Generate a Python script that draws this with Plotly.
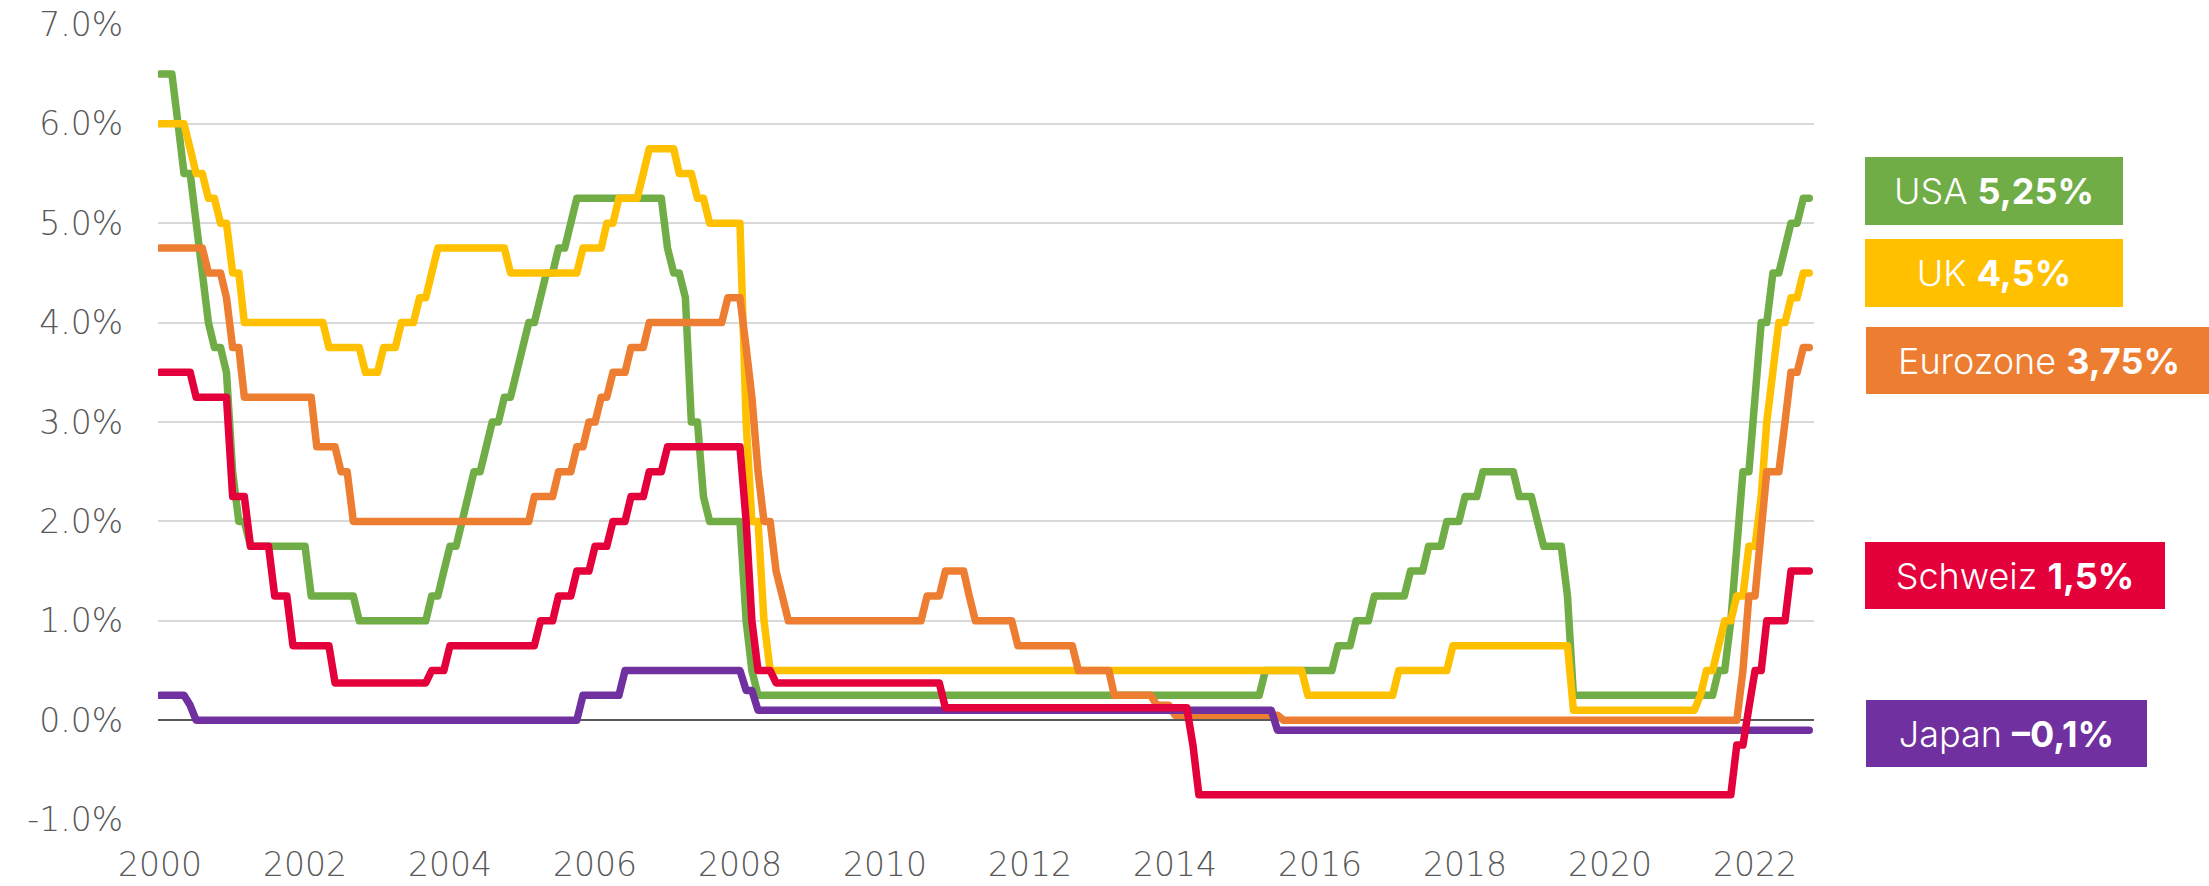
import pandas as pd
import plotly.graph_objects as go

# ---------------- data ----------------
# monthly observations, first one labelled "2000" on the chart
n_months = 274
start_month = "2000-01-01"
tick_years = [2000, 2002, 2004, 2006, 2008, 2010, 2012, 2014, 2016, 2018, 2020, 2022]
y_ticks = [-1, 0, 1, 2, 3, 4, 5, 6, 7]

# (month index, policy rate in %) -- rate holds until the next change
usa_steps = [(0, 6.5), (3, 6.0), (4, 5.5), (6, 5.0), (7, 4.5), (8, 4.0), (9, 3.75), (11, 3.5),
             (12, 2.5), (13, 2.0), (15, 1.75), (25, 1.25), (33, 1.0), (45, 1.25), (47, 1.5),
             (48, 1.75), (50, 2.0), (51, 2.25), (52, 2.5), (54, 2.75), (55, 3.0), (57, 3.25),
             (59, 3.5), (60, 3.75), (61, 4.0), (63, 4.25), (64, 4.5), (66, 4.75), (68, 5.0),
             (69, 5.25), (84, 4.75), (85, 4.5), (87, 4.25), (88, 3.0), (90, 2.25), (91, 2.0),
             (97, 1.0), (98, 0.5), (99, 0.25), (183, 0.5), (195, 0.75), (198, 1.0), (201, 1.25),
             (207, 1.5), (210, 1.75), (213, 2.0), (216, 2.25), (219, 2.5), (225, 2.25), (228, 2.0),
             (229, 1.75), (233, 1.25), (234, 0.25), (258, 0.5), (260, 1.0), (261, 1.75), (262, 2.5),
             (264, 3.25), (265, 4.0), (267, 4.5), (269, 4.75), (270, 5.0), (272, 5.25)]

uk_steps = [(0, 6.0), (5, 5.75), (6, 5.5), (8, 5.25), (10, 5.0), (12, 4.5), (14, 4.0), (28, 3.75),
            (34, 3.5), (37, 3.75), (40, 4.0), (43, 4.25), (45, 4.5), (46, 4.75), (58, 4.5),
            (70, 4.75), (74, 5.0), (76, 5.25), (80, 5.5), (81, 5.75), (86, 5.5), (89, 5.25),
            (91, 5.0), (97, 3.0), (98, 2.0), (100, 1.0), (101, 0.5), (190, 0.25), (205, 0.5),
            (214, 0.75), (234, 0.1), (255, 0.25), (256, 0.5), (258, 0.75), (259, 1.0), (261, 1.25),
            (263, 1.75), (265, 2.25), (266, 3.0), (267, 3.5), (268, 4.0), (270, 4.25), (272, 4.5)]

euro_steps = [(0, 4.75), (8, 4.5), (11, 4.25), (12, 3.75), (14, 3.25), (26, 2.75), (30, 2.5),
              (32, 2.0), (62, 2.25), (66, 2.5), (69, 2.75), (71, 3.0), (73, 3.25), (75, 3.5),
              (78, 3.75), (81, 4.0), (94, 4.25), (97, 3.75), (98, 3.25), (99, 2.5), (100, 2.0),
              (102, 1.5), (103, 1.25), (104, 1.0), (127, 1.25), (130, 1.5), (134, 1.25), (135, 1.0),
              (142, 0.75), (152, 0.5), (158, 0.25), (165, 0.15), (168, 0.05), (186, 0.0),
              (262, 0.5), (263, 1.25), (265, 2.0), (266, 2.5), (269, 3.0), (270, 3.5), (272, 3.75)]

ch_steps = [(0, 3.5), (6, 3.25), (12, 2.25), (15, 1.75), (19, 1.25), (22, 0.75), (29, 0.375),
            (45, 0.5), (48, 0.75), (63, 1.0), (66, 1.25), (69, 1.5), (72, 1.75), (75, 2.0),
            (78, 2.25), (81, 2.5), (84, 2.75), (97, 2.0), (98, 1.0), (99, 0.5), (102, 0.375),
            (130, 0.125), (171, -0.25), (172, -0.75), (261, -0.25), (263, 0.125), (264, 0.5),
            (266, 1.0), (270, 1.5)]

japan_steps = [(0, 0.25), (5, 0.15), (6, 0.0), (70, 0.25), (77, 0.5), (97, 0.3), (99, 0.1), (185, -0.1)]

series_names = ["USA", "UK", "Eurozone", "Schweiz", "Japan"]
series_colors = ["#70AD47", "#FFC000", "#ED7D31", "#E4003A", "#7030A0"]
label_values = ["5,25%", "4,5%", "3,75%", "1,5%", "\u20130,1%"]
# ---------------------------------------------------------------


def expand(steps):
    changes = dict(steps)
    out, cur = [], None
    for i in range(n_months):
        if i in changes:
            cur = changes[i]
        out.append(cur)
    return out


months = pd.date_range(start_month, periods=n_months, freq="MS")
all_steps = [usa_steps, uk_steps, euro_steps, ch_steps, japan_steps]

fig = go.Figure()
draw_order = [0, 1, 2, 4, 3]
for k in draw_order:
    fig.add_trace(go.Scatter(
        x=months, y=expand(all_steps[k]), mode="lines", name=series_names[k],
        line=dict(color=series_colors[k], width=7.5), hoverinfo="skip"))

TICK_FONT = dict(family="'DejaVu Sans ExtraLight', 'DejaVu Sans', sans-serif", size=33,
                 color="#595959", weight=200)
BOX_FONT = "Inter, Roboto, 'Open Sans', sans-serif"
W, H = 2209, 886
L, R, T, B = 158, 395, 24, 66
pw, ph = W - L - R, H - T - B


def px_x(px):
    return (px - L) / pw


def px_y(py):
    return (H - B - py) / ph


# label boxes: (left, right, top, bottom) in pixels
boxes = [(1865, 2123, 157, 225), (1865, 2123, 239, 307), (1866, 2212, 327, 394),
         (1865, 2165, 542, 609), (1866, 2147, 700, 767)]
for k, (x0, x1, y0, y1) in enumerate(boxes):
    fig.add_annotation(
        xref="paper", yref="paper", x=px_x((x0 + x1) / 2), y=px_y((y0 + y1) / 2),
        xanchor="center", yanchor="middle", showarrow=False,
        text=f"{series_names[k]} <b>{label_values[k]}</b>",
        width=x1 - x0, height=y1 - y0, bgcolor=series_colors[k], borderpad=0, borderwidth=0,
        align="center", valign="middle",
        font=dict(family=BOX_FONT, size=36, color="white", weight=300))

tickvals = [months[(y - tick_years[0]) * 12] for y in tick_years]

fig.update_layout(
    width=W, height=H, margin=dict(l=L, r=R, t=T, b=B, autoexpand=False),
    paper_bgcolor="white", plot_bgcolor="white", showlegend=False,
    font=TICK_FONT,
    xaxis=dict(
        range=[months[0] - pd.Timedelta(days=10), months[-1] + pd.Timedelta(days=24)],
        tickvals=tickvals, ticktext=[str(y) for y in tick_years],
        showgrid=False, zeroline=False, showline=False, ticks="", automargin=False,
        ticklabelstandoff=22, tickfont=TICK_FONT),
    yaxis=dict(
        range=[-1.004, 7.004], tickvals=y_ticks, ticktext=[f"{v:.1f}%" for v in y_ticks],
        showgrid=True, gridcolor="#D9D9D9", gridwidth=2,
        zeroline=True, zerolinecolor="#595959", zerolinewidth=1.5, automargin=False,
        showline=False, ticks="", ticklabelstandoff=34, tickfont=TICK_FONT),
)

fig.write_html(
    "out.html", config={"displayModeBar": False},
    post_script=("document.body.style.margin='0';document.body.style.overflow='hidden';"
                 "document.querySelectorAll('path.js-line').forEach(function(p){"
                 "p.style.strokeLinejoin='round';p.style.strokeLinecap='round';});"))
